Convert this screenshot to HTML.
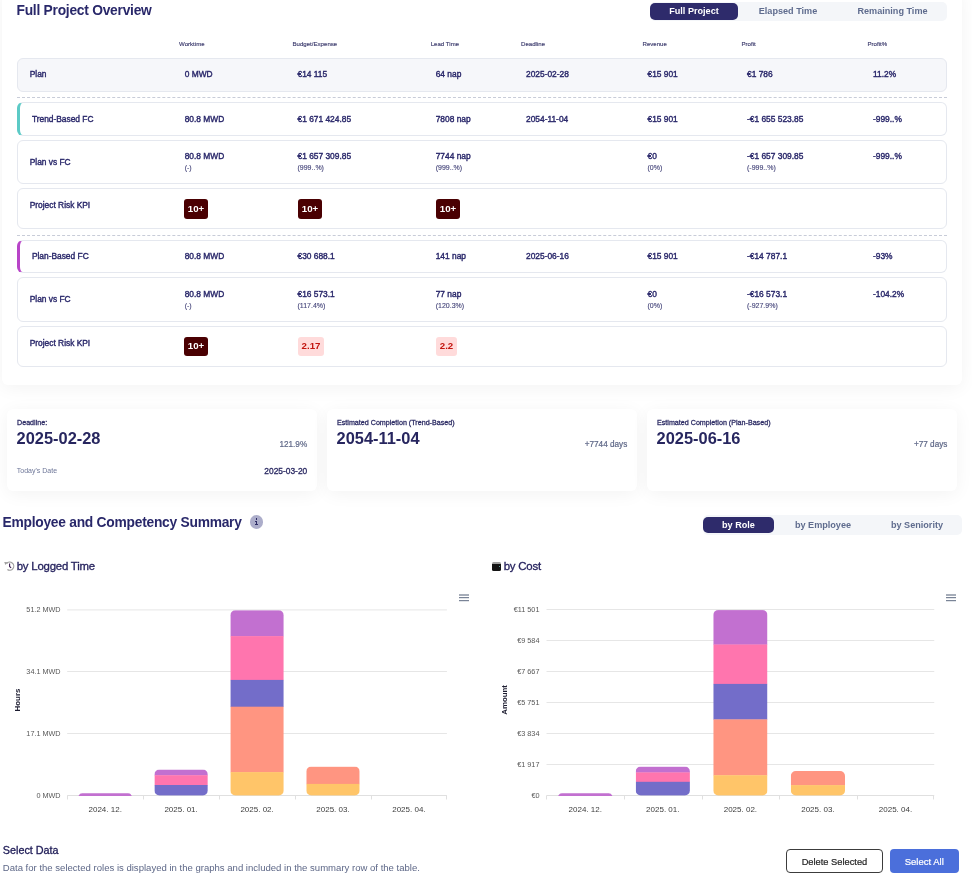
<!DOCTYPE html>
<html><head><meta charset="utf-8">
<style>
*{box-sizing:border-box;margin:0;padding:0}
html,body{width:972px;height:882px;overflow:hidden;background:#fff;font-family:"Liberation Sans",Arial,sans-serif;color:#2b2a63}
.a{position:absolute;white-space:nowrap}
.card{position:absolute;background:#fff;border-radius:6px;box-shadow:0 3px 18px rgba(0,0,0,.05)}
.title{position:absolute;font-weight:bold;color:#29286a;white-space:nowrap;font-size:13.8px;letter-spacing:-0.25px}
.tog{position:absolute;background:#f4f6f9;border-radius:5px}
.tog .b{position:absolute;top:0;height:100%;font-weight:bold;font-size:9.1px;color:#5f6c8e;display:flex;align-items:center;justify-content:center;white-space:nowrap;padding-bottom:2px}
.t2 .b{padding-bottom:0.5px}
.tog .b.on{background:#2e2b6b;color:#fff;border-radius:5px}
.hd{position:absolute;font-size:6.1px;color:#3d3c6e;-webkit-text-stroke-width:0.15px;white-space:nowrap}
.row{position:absolute;left:17px;width:930px;border:1px solid #e5e8ef;border-radius:6px;background:#fff}
.row.plan{background:#f6f7fa}
.lbl,.v{position:absolute;font-size:8.4px;-webkit-text-stroke-width:0.38px;color:#29276a;white-space:nowrap}
.s{position:absolute;font-size:7px;color:#45457a;-webkit-text-stroke-width:0.12px;white-space:nowrap}
.dash{position:absolute;left:17px;width:930px;height:0;border-top:1px dashed #c8ccd8}
.bad{position:absolute;height:19.5px;border-radius:3px;background:#4a0002;color:#fff;font-weight:bold;font-size:9.7px;display:flex;align-items:center;justify-content:center;padding-bottom:1.5px}
.bad.p{background:#ffdbdb;color:#c3150f}
.kl{position:absolute;font-size:7.15px;-webkit-text-stroke-width:0.28px;color:#2b2a63;white-space:nowrap}
.kv{position:absolute;font-size:16.4px;font-weight:bold;color:#27265f;white-space:nowrap}
.kr{position:absolute;font-size:8.2px;-webkit-text-stroke-width:0.2px;color:#5f6888;white-space:nowrap;text-align:right}
.ks{position:absolute;font-size:7px;color:#6d7698;white-space:nowrap}
.kd{position:absolute;font-size:8.4px;-webkit-text-stroke-width:0.32px;color:#2b2a63;white-space:nowrap;text-align:right}
.ct{position:absolute;font-size:11.4px;letter-spacing:-0.2px;color:#27245f;white-space:nowrap;-webkit-text-stroke:0.32px #27245f}
</style></head><body>
<div class="card" style="left:2px;top:-12px;width:960px;height:397px"></div>
<div class="title" style="left:16.5px;top:3px">Full Project Overview</div>
<div class="tog" style="left:650px;top:2px;width:297px;height:19px">
  <div class="b on" style="left:0;top:1px;height:17px;width:88px">Full Project</div>
  <div class="b" style="left:88px;width:100px">Elapsed Time</div>
  <div class="b" style="left:188px;width:109px">Remaining Time</div>
</div>
<div class="hd" style="left:179px;top:40px">Worktime</div>
<div class="hd" style="left:292.5px;top:40px">Budget/Expense</div>
<div class="hd" style="left:430.7px;top:40px">Lead Time</div>
<div class="hd" style="left:521px;top:40px">Deadline</div>
<div class="hd" style="left:642.5px;top:40px">Revenue</div>
<div class="hd" style="left:741.5px;top:40px">Profit</div>
<div class="hd" style="left:867.5px;top:40px">Profit%</div>
<div class="row plan" style="top:58px;height:34px"></div>
<div class="lbl" style="left:29.7px;top:69px">Plan</div>
<div class="v" style="left:184.7px;top:69px">0 MWD</div>
<div class="v" style="left:297.5px;top:69px">€14 115</div>
<div class="v" style="left:435.7px;top:69px">64 nap</div>
<div class="v" style="left:526px;top:69px">2025-02-28</div>
<div class="v" style="left:647.5px;top:69px">€15 901</div>
<div class="v" style="left:747px;top:69px">€1 786</div>
<div class="v" style="left:873px;top:69px">11.2%</div>
<div class="dash" style="top:97px"></div>
<div class="row" style="top:102px;height:33.5px;border-left:3.5px solid #5ccac6"></div>
<div class="lbl" style="left:31.9px;top:114px">Trend-Based FC</div>
<div class="v" style="left:184.7px;top:114px">80.8 MWD</div>
<div class="v" style="left:297.5px;top:114px">€1 671 424.85</div>
<div class="v" style="left:435.7px;top:114px">7808 nap</div>
<div class="v" style="left:526px;top:114px">2054-11-04</div>
<div class="v" style="left:647.5px;top:114px">€15 901</div>
<div class="v" style="left:747px;top:114px">-€1 655 523.85</div>
<div class="v" style="left:873px;top:114px">-999..%</div>
<div class="row" style="top:140px;height:43.5px"></div>
<div class="lbl" style="left:29.7px;top:157px">Plan vs FC</div>
<div class="v" style="left:184.7px;top:151px">80.8 MWD</div>
<div class="v" style="left:297.5px;top:151px">€1 657 309.85</div>
<div class="v" style="left:435.7px;top:151px">7744 nap</div>
<div class="v" style="left:647.5px;top:151px">€0</div>
<div class="v" style="left:747px;top:151px">-€1 657 309.85</div>
<div class="v" style="left:873px;top:151px">-999..%</div>
<div class="s" style="left:184.7px;top:164px">(-)</div>
<div class="s" style="left:297.5px;top:164px">(999..%)</div>
<div class="s" style="left:435.7px;top:164px">(999..%)</div>
<div class="s" style="left:647.5px;top:164px">(0%)</div>
<div class="s" style="left:747px;top:164px">(-999..%)</div>
<div class="row" style="top:188px;height:40.5px"></div>
<div class="lbl" style="left:29.7px;top:200px">Project Risk KPI</div>
<div class="bad" style="left:184px;top:199px;width:24px">10+</div>
<div class="bad" style="left:298px;top:199px;width:24px">10+</div>
<div class="bad" style="left:436px;top:199px;width:24px">10+</div>
<div class="dash" style="top:235px"></div>
<div class="row" style="top:240px;height:33px;border-left:3.5px solid #b844c8"></div>
<div class="lbl" style="left:31.9px;top:251px">Plan-Based FC</div>
<div class="v" style="left:184.7px;top:251px">80.8 MWD</div>
<div class="v" style="left:297.5px;top:251px">€30 688.1</div>
<div class="v" style="left:435.7px;top:251px">141 nap</div>
<div class="v" style="left:526px;top:251px">2025-06-16</div>
<div class="v" style="left:647.5px;top:251px">€15 901</div>
<div class="v" style="left:747px;top:251px">-€14 787.1</div>
<div class="v" style="left:873px;top:251px">-93%</div>
<div class="row" style="top:277px;height:45px"></div>
<div class="lbl" style="left:29.7px;top:294px">Plan vs FC</div>
<div class="v" style="left:184.7px;top:289px">80.8 MWD</div>
<div class="v" style="left:297.5px;top:289px">€16 573.1</div>
<div class="v" style="left:435.7px;top:289px">77 nap</div>
<div class="v" style="left:647.5px;top:289px">€0</div>
<div class="v" style="left:747px;top:289px">-€16 573.1</div>
<div class="v" style="left:873px;top:289px">-104.2%</div>
<div class="s" style="left:184.7px;top:302px">(-)</div>
<div class="s" style="left:297.5px;top:302px">(117.4%)</div>
<div class="s" style="left:435.7px;top:302px">(120.3%)</div>
<div class="s" style="left:647.5px;top:302px">(0%)</div>
<div class="s" style="left:747px;top:302px">(-927.9%)</div>
<div class="row" style="top:326px;height:41px"></div>
<div class="lbl" style="left:29.7px;top:337.5px">Project Risk KPI</div>
<div class="bad" style="left:184px;top:336.5px;width:24px">10+</div>
<div class="bad p" style="left:298px;top:336.8px;width:26px">2.17</div>
<div class="bad p" style="left:436px;top:336.8px;width:21px">2.2</div>
<div class="card" style="left:7px;top:409px;width:310px;height:81.5px;border-radius:6px"></div>
<div class="card" style="left:327px;top:409px;width:310px;height:81.5px;border-radius:6px"></div>
<div class="card" style="left:647px;top:409px;width:310px;height:81.5px;border-radius:6px"></div>
<div class="kl" style="left:17px;top:419px">Deadline:</div>
<div class="kv" style="left:16.6px;top:429px">2025-02-28</div>
<div class="kr" style="right:664.8px;top:440px">121.9%</div>
<div class="ks" style="left:16.8px;top:467px">Today's Date</div>
<div class="kd" style="right:664.8px;top:466px">2025-03-20</div>
<div class="kl" style="left:337px;top:419px">Estimated Completion (Trend-Based)</div>
<div class="kv" style="left:336.6px;top:429px">2054-11-04</div>
<div class="kr" style="right:344.7px;top:440px">+7744 days</div>
<div class="kl" style="left:657px;top:419px">Estimated Completion (Plan-Based)</div>
<div class="kv" style="left:656.6px;top:429px">2025-06-16</div>
<div class="kr" style="right:24.6px;top:440px">+77 days</div>
<div class="title" style="left:2.5px;top:515px">Employee and Competency Summary</div>
<div class="a" style="left:249.6px;top:514.9px;width:13.8px;height:13.8px;border-radius:50%;background:#acadca"></div>
<div class="a" style="left:255.6px;top:518.1px;width:1.7px;height:1.7px;background:#2b2a63"></div>
<div class="a" style="left:255.6px;top:520.6px;width:1.7px;height:4.3px;background:#2b2a63"></div>
<div class="a" style="left:254.6px;top:520.6px;width:1.5px;height:1px;background:#2b2a63"></div>
<div class="a" style="left:254.6px;top:524.1px;width:3.8px;height:1px;background:#2b2a63"></div>
<div class="tog t2" style="left:703px;top:515px;width:259px;height:20px">
  <div class="b on" style="left:0;top:2px;height:16px;width:71px">by Role</div>
  <div class="b" style="left:71px;width:98px">by Employee</div>
  <div class="b" style="left:169px;width:90px">by Seniority</div>
</div>
<svg class="a" style="left:0;top:556px" width="20" height="20" viewBox="0 556 20 20">
  <path d="M6.6 563.7 A4 4 0 1 1 7.4 569.4" fill="none" stroke="#9d9d9d" stroke-width="1.2"/>
  <path d="M4.2 561.9 L7.6 562.3 L5.4 565.1 Z" fill="#9d9d9d"/>
  <path d="M9.6 563.5 L9.6 566.5 L11.1 567.9" fill="none" stroke="#3b1d52" stroke-width="1.1"/>
</svg>
<div class="ct" style="left:16.7px;top:559.5px">by Logged Time</div>
<div class="a" style="left:491.6px;top:562px;width:9.6px;height:8.6px;background:linear-gradient(#a0a0a0 0,#a0a0a0 2px,#141414 2px);border-radius:1.5px"></div>
<div class="a" style="left:498.6px;top:566.2px;width:1.3px;height:1.3px;background:#7cc;border-radius:50%"></div>
<div class="ct" style="left:503.7px;top:559.5px">by Cost</div>
<svg class="a" style="left:0;top:580px" width="486" height="240" viewBox="0 580 486 240"><g stroke="#e6e6e6" stroke-width="1"><line x1="67.2" x2="446.9" y1="609.9" y2="609.9"/><line x1="67.2" x2="446.9" y1="671.5" y2="671.5"/><line x1="67.2" x2="446.9" y1="733.5" y2="733.5"/></g><g stroke="#e0e0e0" stroke-width="1"><line x1="67.2" x2="446.9" y1="795.5" y2="795.5"/><line x1="67.5" x2="67.5" y1="795.5" y2="799.5"/><line x1="143.5" x2="143.5" y1="795.5" y2="799.5"/><line x1="219.5" x2="219.5" y1="795.5" y2="799.5"/><line x1="295.5" x2="295.5" y1="795.5" y2="799.5"/><line x1="371.5" x2="371.5" y1="795.5" y2="799.5"/><line x1="446.5" x2="446.5" y1="795.5" y2="799.5"/></g><g font-size="7.25" fill="#585858" text-anchor="end" font-family="Liberation Sans, sans-serif"><text x="60.6" y="612.4">51.2 MWD</text><text x="60.6" y="674.0">34.1 MWD</text><text x="60.6" y="736.0">17.1 MWD</text><text x="60.6" y="798.0">0 MWD</text></g><g font-size="8" fill="#3d3d3d" text-anchor="middle" font-family="Liberation Sans, sans-serif"><text x="105.2" y="812">2024. 12.</text><text x="181.1" y="812">2025. 01.</text><text x="257.1" y="812">2025. 02.</text><text x="333.0" y="812">2025. 03.</text><text x="408.9" y="812">2025. 04.</text></g><text transform="translate(20.2 700) rotate(-90)" font-size="7.9" font-weight="bold" fill="#1c1c30" text-anchor="middle" font-family="Liberation Sans, sans-serif">Hours</text><g fill="#6c778c"><rect x="459" y="594.4" width="10" height="1.2"/><rect x="459" y="597.1" width="10" height="1.1"/><rect x="459" y="600.1" width="10" height="1.1"/></g><path d="M78.47 796.0 C79.97 793.2 80.47 793.2 84.47 793.2 L125.87 793.2 C129.87 793.2 130.37 793.2 131.87 796.0 Z" fill="#c270d0"/><clipPath id="a1"><rect x="154.41000000000003" y="769.5" width="53.4" height="26.00" rx="5.00"/></clipPath><g clip-path="url(#a1)"><rect x="154.41000000000003" y="769.5" width="53.4" height="6.00" fill="#c270d0"/><rect x="154.41000000000003" y="775.2" width="53.4" height="10.10" fill="#ff75ae"/><rect x="154.41000000000003" y="785" width="53.4" height="10.80" fill="#736dc9"/></g><clipPath id="a2"><rect x="230.35000000000002" y="610.2" width="53.4" height="185.30" rx="5.00"/></clipPath><g clip-path="url(#a2)"><rect x="230.35000000000002" y="610.2" width="53.4" height="26.20" fill="#c270d0"/><rect x="230.35000000000002" y="636.1" width="53.4" height="44.10" fill="#ff75ae"/><rect x="230.35000000000002" y="679.9" width="53.4" height="27.10" fill="#736dc9"/><rect x="230.35000000000002" y="706.7" width="53.4" height="65.70" fill="#ff9581"/><rect x="230.35000000000002" y="772.1" width="53.4" height="23.70" fill="#ffc569"/></g><clipPath id="a3"><rect x="306.28999999999996" y="766.6" width="53.4" height="28.90" rx="5.00"/></clipPath><g clip-path="url(#a3)"><rect x="306.28999999999996" y="766.6" width="53.4" height="17.60" fill="#ff9581"/><rect x="306.28999999999996" y="783.9" width="53.4" height="11.90" fill="#ffc569"/></g></svg>
<svg class="a" style="left:486px;top:580px" width="486" height="240" viewBox="486 580 486 240"><g stroke="#e6e6e6" stroke-width="1"><line x1="546.5" x2="934.25" y1="609.5" y2="609.5"/><line x1="546.5" x2="934.25" y1="640.5" y2="640.5"/><line x1="546.5" x2="934.25" y1="671.5" y2="671.5"/><line x1="546.5" x2="934.25" y1="702.5" y2="702.5"/><line x1="546.5" x2="934.25" y1="733.5" y2="733.5"/><line x1="546.5" x2="934.25" y1="764.5" y2="764.5"/></g><g stroke="#e0e0e0" stroke-width="1"><line x1="546.5" x2="934.25" y1="795.5" y2="795.5"/><line x1="546.5" x2="546.5" y1="795.5" y2="799.5"/><line x1="624.5" x2="624.5" y1="795.5" y2="799.5"/><line x1="702.5" x2="702.5" y1="795.5" y2="799.5"/><line x1="779.5" x2="779.5" y1="795.5" y2="799.5"/><line x1="857.5" x2="857.5" y1="795.5" y2="799.5"/><line x1="933.5" x2="933.5" y1="795.5" y2="799.5"/></g><g font-size="7.3" fill="#585858" text-anchor="end" font-family="Liberation Sans, sans-serif"><text x="539.5" y="612.0">€11 501</text><text x="539.5" y="643.0">€9 584</text><text x="539.5" y="674.0">€7 667</text><text x="539.5" y="705.0">€5 751</text><text x="539.5" y="736.0">€3 834</text><text x="539.5" y="767.0">€1 917</text><text x="539.5" y="798.0">€0</text></g><g font-size="8" fill="#3d3d3d" text-anchor="middle" font-family="Liberation Sans, sans-serif"><text x="585.3" y="812">2024. 12.</text><text x="662.8" y="812">2025. 01.</text><text x="740.4" y="812">2025. 02.</text><text x="817.9" y="812">2025. 03.</text><text x="895.5" y="812">2025. 04.</text></g><text transform="translate(507.1 699.9) rotate(-90)" font-size="7.9" font-weight="bold" fill="#1c1c30" text-anchor="middle" font-family="Liberation Sans, sans-serif">Amount</text><g fill="#6c778c"><rect x="946" y="594.4" width="10" height="1.2"/><rect x="946" y="597.1" width="10" height="1.1"/><rect x="946" y="600.1" width="10" height="1.1"/></g><path d="M558.17 796.0 C559.67 793.3 560.17 793.3 564.17 793.3 L606.38 793.3 C610.38 793.3 610.88 793.3 612.38 796.0 Z" fill="#c270d0"/><clipPath id="b1"><rect x="635.725" y="766.6" width="54.2" height="28.90" rx="5.00"/></clipPath><g clip-path="url(#b1)"><rect x="635.725" y="766.6" width="54.2" height="6.10" fill="#c270d0"/><rect x="635.725" y="772.4" width="54.2" height="9.70" fill="#ff75ae"/><rect x="635.725" y="781.8" width="54.2" height="14.00" fill="#736dc9"/></g><clipPath id="b2"><rect x="713.275" y="610.1" width="54.2" height="185.40" rx="5.00"/></clipPath><g clip-path="url(#b2)"><rect x="713.275" y="610.1" width="54.2" height="34.70" fill="#c270d0"/><rect x="713.275" y="644.5" width="54.2" height="39.70" fill="#ff75ae"/><rect x="713.275" y="683.9" width="54.2" height="35.80" fill="#736dc9"/><rect x="713.275" y="719.4" width="54.2" height="56.10" fill="#ff9581"/><rect x="713.275" y="775.2" width="54.2" height="20.60" fill="#ffc569"/></g><clipPath id="b3"><rect x="790.8249999999999" y="771" width="54.2" height="24.50" rx="5.00"/></clipPath><g clip-path="url(#b3)"><rect x="790.8249999999999" y="771" width="54.2" height="14.40" fill="#ff9581"/><rect x="790.8249999999999" y="785.1" width="54.2" height="10.70" fill="#ffc569"/></g></svg>
<div class="a" style="left:2.8px;top:844px;font-size:10.8px;color:#23205a;-webkit-text-stroke:0.3px #23205a">Select Data</div>
<div class="a" style="left:2.8px;top:862px;font-size:9.55px;color:#5d6787">Data for the selected roles is displayed in the graphs and included in the summary row of the table.</div>
<div class="a" style="left:786.3px;top:849.2px;width:96.3px;height:23.4px;border:1px solid #3c3c3c;border-radius:4px;background:#fff;color:#1f1f1f;font-size:9.3px;-webkit-text-stroke-width:0.2px;display:flex;align-items:center;justify-content:center;padding-top:2px">Delete Selected</div>
<div class="a" style="left:890px;top:849.2px;width:68.5px;height:23.4px;border-radius:4px;background:#4b6fdb;color:#fff;font-size:9.5px;-webkit-text-stroke-width:0.2px;display:flex;align-items:center;justify-content:center;padding-top:2px">Select All</div>
</body></html>
